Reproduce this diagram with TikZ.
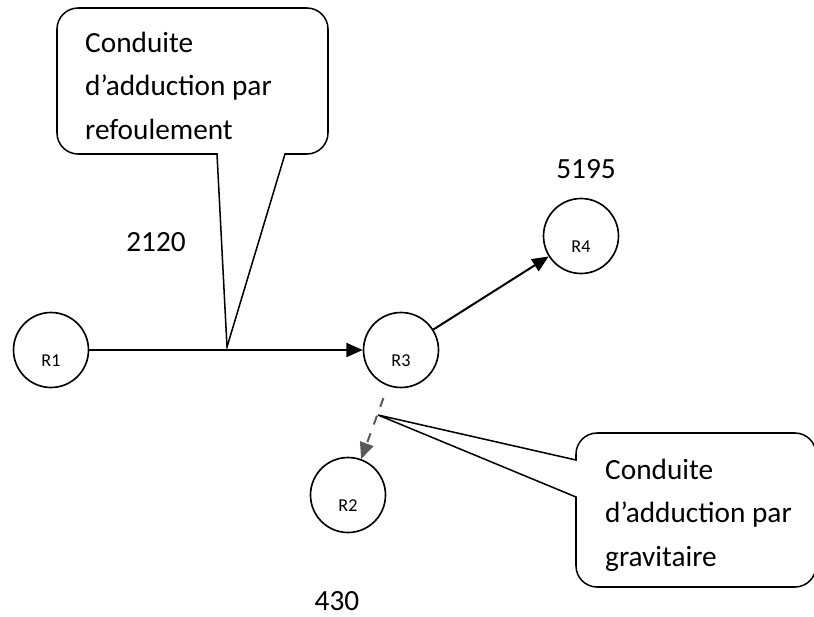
\documentclass[tikz,border=0pt]{standalone}
\usepackage{fontspec}
\setmainfont{Carlito}
\usetikzlibrary{arrows.meta}

\begin{document}
\begin{tikzpicture}[x=0.03cm,y=-0.03cm,
	reservoir/.style={draw, circle, line width=1.4pt, minimum size=64pt, inner sep=0pt},
	nom/.style={font=\fontsize{15.5}{18}\selectfont, yshift=-9pt},
	conduite/.style={line width=1.7pt, -{Triangle[length=14pt,width=12pt]}},
	bulle/.style={line width=1.3pt},
	texte/.style={font=\fontsize{25}{37}\selectfont, inner sep=0pt, align=left}]
	\useasboundingbox (0,0) rectangle (814,616);
	
	%Reservoirs
	\node[reservoir, label={[nom]center:R1}] (R1) at (51,350) {};
	\node[reservoir, label={[nom]center:R3}] (R3) at (401,350) {};
	\node[reservoir, label={[nom]center:R4}] (R4) at (581,236) {};
	\node[reservoir, label={[nom]center:R2}] (R2) at (348,495) {};
	
	%Conduites
	\draw[conduite] (R1) -- (R3);
	\draw[conduite] (R3) -- (R4);
	\draw[conduite, gray!70!black, dash pattern=on 8pt off 8pt, shorten <=11pt] (R3) -- (R2); %gravitaire
	
	%Bulles
	\draw[bulle] (217,154) -- (227,347) -- (285,154) [rounded corners=18] -- (328,154) -- (328,8) -- (57,8) -- (57,154) [sharp corners] -- cycle;
	\draw[bulle] (576,460) -- (378,415) -- (576,497) [rounded corners=18] -- (576,587) -- (816,587) -- (816,433) -- (576,433) [sharp corners] -- cycle;
	\node[texte, anchor=north west] (t1) at (85,32) {Conduite\\d’adduction par\\refoulement};
	\node[texte, anchor=north west] (t2) at (605,459) {Conduite\\d’adduction par\\gravitaire};
	
	%Longueurs
	\node[texte] (l2120) at (156,242) {2120};
	\node[texte] (l5195) at (586,169) {5195};
	\node[texte] (l430) at (337,601) {430};
\end{tikzpicture}
\end{document}
